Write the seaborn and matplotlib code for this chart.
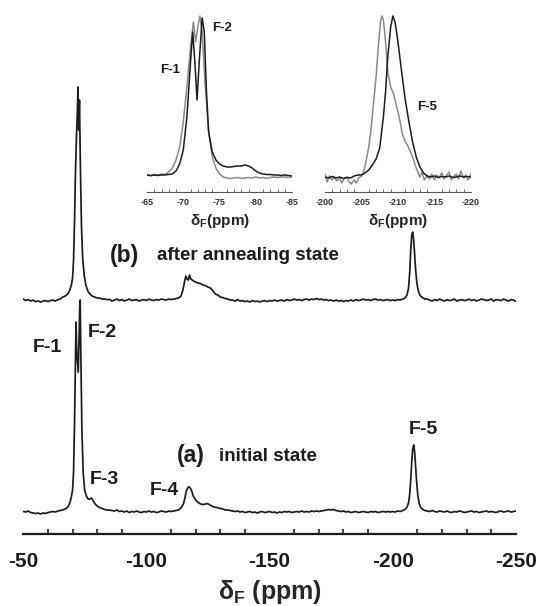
import matplotlib
matplotlib.use("Agg")
import matplotlib.pyplot as plt
import seaborn as sns
from matplotlib.ticker import MultipleLocator

sns.set_style("white")
plt.rcParams['font.family'] = ['Liberation Sans', 'DejaVu Sans']
plt.rcParams['font.weight'] = 'bold'
plt.rcParams['mathtext.fontset'] = 'custom'
plt.rcParams['mathtext.rm'] = 'Liberation Sans:bold'
plt.rcParams['mathtext.default'] = 'rm'

# ---- main spectra (ppm, intensity above own baseline) ----
a_ppm = (list(range(-50, -66, -1))
         + [-66, -67, -68, -68.5, -69, -69.5, -70, -70.4, -70.8, -71.1,
            -71.4, -71.7, -72.0, -72.3, -72.6, -72.9, -73.1, -73.4, -73.8, -74.3,
            -74.9, -75.6, -76.3, -77, -77.7, -78.4, -79.2, -80, -81, -82, -83, -84]
         + list(range(-85, -113, -1))
         + [-113, -114, -115, -115.5, -116, -116.5, -117, -117.5, -118, -118.5,
            -119, -120, -121, -122, -123, -124, -124.7, -125.5, -126.5, -127.5,
            -128.5, -130, -131, -132, -133, -134]
         + list(range(-135, -204, -1))
         + [-204, -205, -205.8, -206.4, -206.9, -207.3, -207.7, -208.1, -208.5, -208.9,
            -209.3, -209.7, -210.2, -210.8, -211.5, -212.3, -213]
         + list(range(-214, -251, -1)))
a_int = ([0.5, 0, 1, -0.5, -1, -1.5, -1, -2, -1, -1.5, -0.5, 0, 0.5, 0, 1, 1.5]
         + [2, 3, 5, 7, 10, 15, 22, 40, 90, 140,
            190, 160, 150, 140, 170, 205, 212, 150, 80, 40,
            22, 16, 13, 13, 14, 11, 8, 6, 4.5, 3.5, 2.5, 2]
         + [2, 1.5, 1, 2, 0.5, 1, 0, 1, -0.5, 0.5, 0, 1, 0, -0.5, 0.5, 0, 1, 0, 0.5, -0.5,
            0, 1, 0.5, 0, 1, 0.5, 1, 1.5]
         + [2, 4, 8, 13, 19, 23, 25, 25, 23, 20,
            16, 12, 9.5, 8, 7.5, 8, 8.5, 7.5, 6, 5,
            4.5, 3.5, 3, 2, 2, 1.5]
         + [1, 0.5, 1, 0, 0.5, -0.5, 0, 0.5, -0.5, 0, -1, 0, 0.5, -0.5, 0, 0.5, -0.5, 0, -1, 0,
            -0.5, 0.5, 0, 0.5, -0.5, 0, 0.5, 0, 1, 0, 0.5, 0, 1, 0.5, 1, 0.5, 1, 1.5, 2, 2.5,
            2, 2.5, 1.5, 1, 0.5, 1, 0, 0.5, -0.5, 0, 0.5, -0.5, 0, 0.5, 0, -0.5, 0.5, 0, 0.5, -0.5,
            0, 0.5, 0, 0.5, 0, 0.5, 0, 1, 0.5]
         + [1.5, 2.5, 5, 9, 18, 32, 50, 63, 67, 60, 45, 30, 16, 8, 4, 2.5, 1.5]
         + [1, 0.5, 1.5, 0.5, 0, 1, 0.5, 0, 1, 0, -0.5, 0.5, 0, 1, 0.5, -0.5, 0, 0.5, 1, 0,
            0.5, -0.5, 0, 0.5, 1, 0, 0.5, 0, -0.5, 0.5, 1, 0, 0.5, 1, 0, 0.5, 1])

b_ppm = (list(range(-50, -66, -1))
         + [-66, -67, -68, -68.5, -69, -69.5, -70, -70.4, -70.8, -71.2,
            -71.6, -71.9, -72.2, -72.5, -72.8, -73.2, -73.6, -74.1, -74.7, -75.4,
            -76.2, -77, -78, -79, -80, -81, -82, -83, -84]
         + list(range(-85, -113, -1))
         + [-113, -114, -114.8, -115.5, -116, -116.5, -117, -117.5, -118, -118.6,
            -119.2, -120, -121, -122, -123, -124, -125, -126, -127, -128,
            -129, -130, -131, -132, -133, -134]
         + list(range(-135, -204, -1))
         + [-204, -205, -205.8, -206.4, -206.9, -207.3, -207.7, -208.1, -208.5, -208.9,
            -209.3, -209.8, -210.4, -211, -211.7, -212.5, -213]
         + list(range(-214, -251, -1)))
b_int = ([1, -0.5, 0.5, -1, 0, -1.5, -1, -2, -1, -0.5, -1.5, -0.5, 0, -1, 0.5, 1]
         + [3, 4, 6, 8, 11, 15, 22, 40, 80, 130,
            165, 185, 213, 170, 200, 130, 75, 42, 25, 15,
            9, 6, 4, 3, 2, 2, 1, 1, 0.5]
         + [0.5, -1, 0, 1, -0.5, 0.5, -1, 0, 1, -0.5, 0, 0.5, -1, 0, 0.5, -0.5, 1, 0, -0.5, 0.5,
            0, 1, 0.5, 0, 1, 0.5, 1, 1.5]
         + [2, 4, 10, 19, 24, 21, 20, 25, 21, 20,
            19, 18, 17, 16.5, 15, 14.5, 13, 12, 9, 6,
            5, 3, 2.5, 1.5, 1, 0]
         + [0, -1, 0.5, -1, -0.5, -1.5, -1, -2, -0.5, -1.5, -1, -2, -1, -0.5, -1.5, -0.5, -1, 0, -1, -0.5,
            0, -1, 0.5, -0.5, 0, 1, 0, 0.5, -0.5, 0.5, 1, 0, 1, 0.5, 1.5, 0.5, 1, 0, 0.5, -0.5,
            0, -1, 0, -1, -0.5, -1.5, -0.5, -1, 0, -1, 0.5, -0.5, 0, 1, 0, 0.5, -0.5, 0.5, 1, 0,
            0.5, -0.5, 0, 0.5, -0.5, 0, -0.5, 0.5, 0]
         + [1, 2, 5, 12, 28, 50, 65, 68, 60, 45, 30, 17, 9, 5, 3, 2, 1]
         + [1, 0, -1, 0.5, -0.5, 1, 0, -1, 0.5, -0.5, 0, 1, -1, 0, 0.5, -0.5, 0, 1, -0.5, 0.5,
            -1, 0, 1, 0.5, -0.5, 0, 1, -1, 0.5, 0, -0.5, 1, 0, -1, 0.5, 0, -1.5])

# ---- inset spectra (expanded regions) ----
l_gray_ppm = [-65, -65.5, -66, -66.5, -67, -67.5, -68, -68.5, -69, -69.5,
              -70, -70.5, -71, -71.4, -71.7, -72.0, -72.3, -72.6, -73.0, -73.5,
              -74, -74.5, -75, -75.5, -76, -76.5, -77, -77.5, -78, -78.5,
              -79, -79.5, -80, -80.5, -81, -81.5, -82, -82.5, -83, -83.5,
              -84, -84.5, -85]
l_gray_int = [17, 16, 17.5, 17, 18, 17.5, 20, 24, 32, 45,
              70, 105, 145, 170, 150, 165, 176, 160, 110, 60,
              35, 24, 18, 15, 14, 13.5, 14, 14.5, 13.5, 14,
              14.5, 14, 15, 14, 14.5, 13.5, 14.5, 15, 14.5, 15,
              15, 14.5, 15]
l_black_ppm = [-65, -65.5, -66, -66.5, -67, -67.5, -68, -68.5, -69, -69.5,
               -70, -70.5, -71, -71.3, -71.6, -71.9, -72.2, -72.6, -72.9, -73.2,
               -73.5, -74, -74.5, -75, -75.5, -76, -76.5, -77, -77.5, -78,
               -78.5, -79, -79.5, -80, -80.5, -81, -81.5, -82, -82.5, -83,
               -83.5, -84, -84.5, -85]
l_black_int = [17, 16.5, 17, 16.5, 17, 17, 17.5, 18, 21, 28,
               42, 75, 130, 160, 130, 92, 130, 174, 160, 100,
               60, 40, 32, 28, 26, 25, 25, 25.5, 26, 26,
               27, 26, 24, 21, 19, 18, 17.5, 17.5, 17, 17,
               16.5, 17, 16.5, 16]

r_gray_ppm = [-200, -200.3, -200.6, -201, -201.3, -201.6, -202, -202.3, -202.6, -203,
              -203.3, -203.6, -204, -204.3, -204.6, -205, -205.3, -205.6, -206, -206.3,
              -206.6, -207, -207.3, -207.6, -207.8, -208.0, -208.3, -208.6, -209, -209.3,
              -209.6, -210, -210.3, -210.6, -211, -211.3, -211.6, -212, -212.3, -212.6,
              -213, -213.3, -213.6, -214, -214.3, -214.6, -215, -215.3, -215.6, -216,
              -216.3, -216.6, -217, -217.3, -217.6, -218, -218.3, -218.6, -219, -219.3,
              -219.6, -220]
r_gray_int = [18, 10, 16, 12, 15, 11, 14, 9, 13, 15,
              10, 8, 12, 9, 14, 16, 20, 30, 45, 62,
              85, 115, 145, 170, 176, 172, 150, 120, 105, 100,
              92, 80, 70, 58, 50, 47, 42, 35, 28, 22,
              15, 20, 12, 16, 13, 18, 12, 17, 14, 19,
              13, 16, 20, 12, 15, 18, 13, 21, 14, 17,
              12, 18]
r_black_ppm = [-200, -200.5, -201, -201.5, -202, -202.5, -203, -203.5, -204, -204.5,
               -205, -205.5, -206, -206.5, -207, -207.5, -208, -208.3, -208.6, -209,
               -209.3, -209.6, -210, -210.5, -211, -211.5, -212, -212.5, -213, -213.5,
               -214, -214.5, -215, -215.5, -216, -216.5, -217, -217.5, -218, -218.5,
               -219, -219.5, -220]
r_black_int = [15, 14, 15.5, 14, 15, 13.5, 14.5, 14, 16, 17,
               17, 19, 22, 27, 33, 44, 75, 100, 135, 165,
               176, 170, 150, 120, 92, 70, 50, 35, 25, 19,
               16, 15, 16, 14.5, 15.5, 15, 16, 14.5, 15, 16,
               15, 15.5, 15]

main_ticks = [-50, -100, -150, -200, -250]
main_labels = ['-50', '-100', '-150', '-200', '-250']
left_ticks = [-65, -70, -75, -80, -85]
left_labels = ['-65', '-70', '-75', '-80', '-85']
right_ticks = [-200, -205, -210, -215, -220]
right_labels = ['-200', '-205', '-210', '-215', '-220']

# vertical offsets of the two traces (stacked display)
base_a = 22
base_b = 234

line_col = '#1c1c1c'
gray_col = '#8a8a8a'

fig = plt.figure(figsize=(5.36, 6.06), dpi=100)
ax = fig.add_axes([0.0435, 0.1188, 0.919, 0.749])

sns.lineplot(x=a_ppm, y=[v + base_a for v in a_int], ax=ax, color=line_col, lw=1.25,
             estimator=None, sort=False)
sns.lineplot(x=b_ppm, y=[v + base_b for v in b_int], ax=ax, color=line_col, lw=1.25,
             estimator=None, sort=False)

ax.set_xlim(-50, -250)
ax.set_ylim(0, 454)
ax.set_yticks([])
for s in ['top', 'left', 'right']:
    ax.spines[s].set_visible(False)
ax.spines['bottom'].set_linewidth(1.6)
ax.spines['bottom'].set_color(line_col)
ax.set_xticks(main_ticks, main_labels)
ax.xaxis.set_minor_locator(MultipleLocator(10))
ax.tick_params(axis='x', which='major', direction='in', length=6, width=1.3,
               labelsize=15, pad=13, colors=line_col)
ax.tick_params(axis='x', which='minor', direction='in', length=3.5, width=1.2,
               colors=line_col, bottom=True)
ax.set_xlabel('δ$_{F}$ (ppm)', fontsize=18, fontweight='bold', labelpad=5)
ax.patch.set_alpha(0)

lab = dict(fontsize=14, fontweight='bold', ha='center', va='center', color=line_col)
ax.text(-59.6, 187, 'F-1', **lab)
ax.text(-82.1, 202, 'F-2', **lab)
ax.text(-83.0, 55, 'F-3', **lab)
ax.text(-107.2, 44, 'F-4', **lab)
ax.text(-212.4, 105, 'F-5', **lab)
ax.text(-118.2, 79, '(a)', fontsize=16.5, fontweight='bold', ha='center', va='center', color=line_col)
ax.text(-129.3, 78, 'initial state', fontsize=13.5, fontweight='bold', ha='left', va='center', color=line_col)
ax.text(-91.2, 279, '(b)', fontsize=16.5, fontweight='bold', ha='center', va='center', color=line_col)
ax.text(-104.2, 279, 'after annealing state', fontsize=13.5, fontweight='bold', ha='left', va='center',
        color=line_col)

# ---- insets ----
inset_specs = [
    ([0.2743, 0.6832, 0.2705, 0.2921], (-65, -85), left_ticks, left_labels,
     (l_gray_ppm, l_gray_int), (l_black_ppm, l_black_int)),
    ([0.6063, 0.6832, 0.2724, 0.2921], (-200, -220), right_ticks, right_labels,
     (r_gray_ppm, r_gray_int), (r_black_ppm, r_black_int)),
]
insets = []
for pos, xl, tks, tls, gray, black in inset_specs:
    ia = fig.add_axes(pos)
    sns.lineplot(x=gray[0], y=gray[1], ax=ia, color=gray_col, lw=1.1, estimator=None, sort=False)
    sns.lineplot(x=black[0], y=black[1], ax=ia, color=line_col, lw=1.1, estimator=None, sort=False)
    ia.set_xlim(*xl)
    ia.set_ylim(0, 177)
    ia.set_yticks([])
    for s in ['top', 'left', 'right']:
        ia.spines[s].set_visible(False)
    ia.spines['bottom'].set_linewidth(0.8)
    ia.spines['bottom'].set_color('#555555')
    ia.set_xticks(tks, tls)
    ia.xaxis.set_minor_locator(MultipleLocator(1))
    ia.tick_params(axis='x', which='major', direction='in', length=3, width=0.8,
                   labelsize=6.5, pad=4, colors='#333333')
    ia.tick_params(axis='x', which='minor', direction='in', length=2, width=0.6,
                   colors='#555555', bottom=True)
    ia.set_xlabel('δ$_{F}$(ppm)', fontsize=11, fontweight='bold', labelpad=4)
    ia.patch.set_alpha(0)
    insets.append(ia)

ins = dict(fontsize=9.5, fontweight='bold', ha='center', va='center', color=line_col)
insets[0].text(-68.2, 122, 'F-1', **ins)
insets[0].text(-75.3, 164, 'F-2', **ins)
insets[1].text(-214.0, 85, 'F-5', **ins)

fig.savefig('out.png', dpi=100)
